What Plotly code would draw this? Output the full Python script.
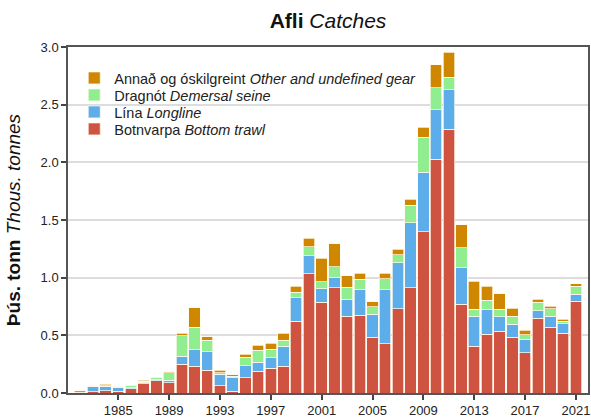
import plotly.graph_objects as go

years = list(range(1982, 2022))

botnvarpa = [0.005, 0.010, 0.020, 0.017, 0.035, 0.080, 0.105, 0.091, 0.250, 0.232,
             0.197, 0.065, 0.015, 0.132, 0.188, 0.215, 0.234, 0.621, 1.032, 0.786,
             0.913, 0.665, 0.676, 0.483, 0.427, 0.731, 0.913, 1.398, 2.025, 2.285,
             0.768, 0.407, 0.508, 0.537, 0.485, 0.350, 0.650, 0.572, 0.517, 0.794]
lina = [0.020, 0.045, 0.040, 0.035, 0.010, 0.012, 0.009, 0.018, 0.070, 0.141,
        0.162, 0.097, 0.118, 0.106, 0.079, 0.091, 0.173, 0.205, 0.159, 0.116,
        0.090, 0.150, 0.223, 0.202, 0.468, 0.399, 0.563, 0.517, 0.430, 0.344,
        0.318, 0.257, 0.220, 0.124, 0.113, 0.116, 0.064, 0.095, 0.087, 0.061]
dragnot = [0.000, 0.003, 0.003, 0.008, 0.016, 0.009, 0.018, 0.068, 0.176, 0.197,
           0.097, 0.012, 0.012, 0.071, 0.103, 0.074, 0.052, 0.049, 0.078, 0.064,
           0.090, 0.104, 0.087, 0.064, 0.095, 0.069, 0.150, 0.303, 0.191, 0.110,
           0.173, 0.062, 0.075, 0.066, 0.069, 0.040, 0.072, 0.064, 0.017, 0.069]
annad = [0.000, 0.003, 0.012, 0.000, 0.006, 0.009, 0.006, 0.006, 0.024, 0.171,
         0.032, 0.024, 0.012, 0.026, 0.044, 0.053, 0.058, 0.052, 0.072, 0.202,
         0.200, 0.098, 0.052, 0.043, 0.049, 0.046, 0.055, 0.087, 0.199, 0.217,
         0.202, 0.245, 0.124, 0.133, 0.066, 0.040, 0.029, 0.023, 0.020, 0.023]

series = [
    ("Botnvarpa <i>Bottom trawl</i>", botnvarpa, "#CE5340"),
    ("Lína <i>Longline</i>", lina, "#5DADEA"),
    ("Dragnót <i>Demersal seine</i>", dragnot, "#90EE90"),
    ("Annað og óskilgreint <i>Other and undefined gear</i>", annad, "#CF8700"),
]

tick_years = list(range(1985, 2022, 4))

# one legend box per series so the entries can sit closer together
legend_ids = ["legend4", "legend3", "legend2", "legend"]
legend_rows_px = [129, 112, 95, 78]  # vertical centre of each entry (px from top)
plot_top, plot_bottom = 47, 393

fig = go.Figure()
for (name, vals, col), lid in zip(series, legend_ids):
    fig.add_trace(go.Bar(
        x=years, y=vals, name=name, legend=lid, showlegend=True,
        marker=dict(color=col, line=dict(color="rgba(255,250,235,0.9)", width=0.8)),
        width=0.9,
    ))

font_family = "Liberation Sans, Arial, sans-serif"
legend_layout = {}
for lid, ypx in zip(legend_ids, legend_rows_px):
    legend_layout[lid] = dict(
        x=0.012, y=(plot_bottom - ypx) / (plot_bottom - plot_top),
        xanchor="left", yanchor="middle", bgcolor="rgba(0,0,0,0)",
        font=dict(size=14.5, color="#222222"))

fig.update_layout(
    barmode="stack",
    showlegend=True,
    width=591, height=418,
    autosize=False,
    margin=dict(l=68, r=3, t=47, b=25, autoexpand=False),
    paper_bgcolor="white", plot_bgcolor="white",
    font=dict(family=font_family, size=13, color="#222222"),
    title=dict(text="<b>Afli</b> <i>Catches</i>", x=0.5, xref="paper", xanchor="center",
               y=0.95, yanchor="middle", font=dict(size=21, color="#111111")),
    xaxis=dict(range=[1981.05, 2021.95], tickvals=tick_years,
               ticktext=[str(y) for y in tick_years],
               showgrid=False, ticks="outside", ticklen=5, tickwidth=1.5,
               tickcolor="#444444", showline=True, linecolor="#555555",
               linewidth=1.5, mirror=True, zeroline=False, automargin=False,
               tickfont=dict(size=13, color="#222222")),
    yaxis=dict(range=[0, 3.0], tickvals=[0, 0.5, 1.0, 1.5, 2.0, 2.5, 3.0],
               tickformat=".1f", showgrid=True, gridcolor="#dddddd", gridwidth=1.5,
               ticks="outside", ticklen=5, tickwidth=1.5, tickcolor="#444444",
               showline=True, linecolor="#555555", linewidth=1.5, mirror=True,
               zeroline=False, automargin=False,
               tickfont=dict(size=13, color="#222222"),
               title=dict(text="<b>Þús. tonn</b> <i>Thous. tonnes</i>",
                          font=dict(size=19, color="#111111"))),
    **legend_layout,
)

fig.write_html("out.html", config={"displayModeBar": False},
               post_script="document.body.style.margin='0';document.body.style.overflow='hidden';")
